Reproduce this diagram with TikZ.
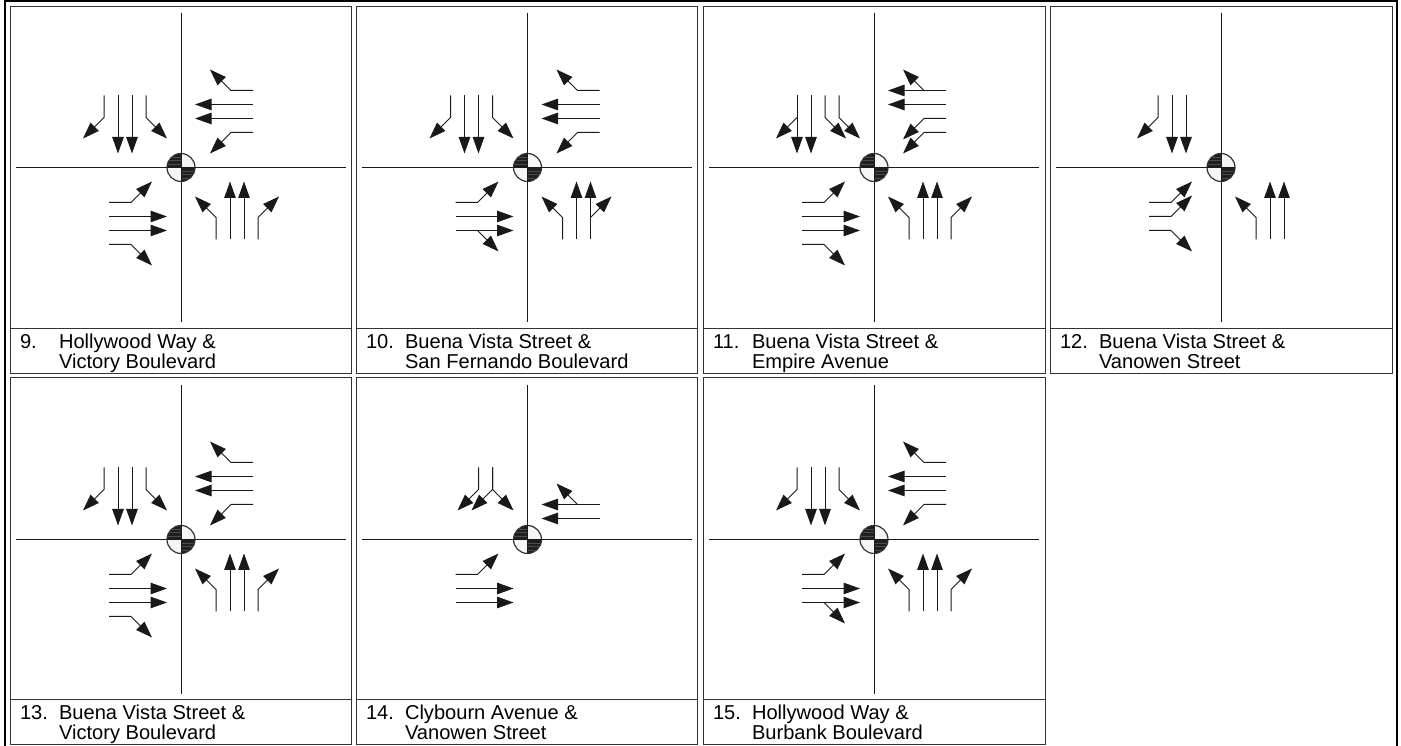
\documentclass[tikz,border=0pt]{standalone}
\usepackage{fontspec}
\setmainfont{Liberation Sans}
\usetikzlibrary{arrows.meta}
\tikzset{
  x=1pt,y=1pt,
  arr/.style={line width=1pt,draw=black!90,-{Triangle[length=16.5pt,width=11.5pt]},line join=miter},
  road/.style={line width=1pt,draw=black!90},
  panelbox/.style={line width=1pt,draw=black!80},
  label/.style={anchor=base west,inner sep=0pt,outer sep=0pt,font=\fontsize{20.1}{20}\selectfont,text=black},
}
% lane types, drawn for a southbound approach; the other approaches are rotations
\newcommand{\lnT}[1]{\draw[arr] (#1,72) -- (#1,14);}
\newcommand{\lnL}[1]{\draw[arr] (#1,72) -- (#1,50) -- ({#1-21},29);}
\newcommand{\lnR}[1]{\draw[arr] (#1,72) -- (#1,50) -- ({#1+21},29);}
\newcommand{\brL}[1]{\draw[arr] (#1,50) -- ({#1-21},29);}
\newcommand{\stdappr}{\lnL{-77}\lnT{-63}\lnT{-49}\lnR{-35}}
\newcommand{\sharedappr}{\lnR{-35}\lnT{-49}\lnT{-63}\brL{-63}}
\newcommand{\elevenappr}{\lnT{-77}\brL{-77}\lnT{-63}\lnR{-49}\lnR{-35}}
% \panelframe{left}{right}{top}{bottom}{divider}
\newcommand{\panelframe}[5]{\draw[panelbox] (#1,746-#3) rectangle (#2,746-#4);
  \draw[panelbox] (#1,746-#5) -- (#2,746-#5);}
% \signal{cx}{cy}
\newcommand{\signal}[2]{\begin{scope}[shift={(#1,746-#2)}]
  \fill[black!4] (0,0) circle (14);
  \fill[black!88] (0,0) -- (-14,0) arc (180:90:14) -- cycle;
  \fill[black!88] (0,0) -- (14,0) arc (0:-90:14) -- cycle;
  \foreach \yy in {3.5,7,10.5} {
    \draw[black!70,line width=0.3pt] ({-sqrt(196-\yy*\yy)},\yy) -- (0,\yy);
    \draw[black!70,line width=0.3pt] (0,-\yy) -- ({sqrt(196-\yy*\yy)},-\yy);}
  \draw[line width=1.2pt,draw=black!80] (0,0) circle (14);
  \draw[road] (-14,0) -- (14,0);
  \draw[road] (0,-14) -- (0,14);
\end{scope}}
\newcommand{\appr}[4]{\begin{scope}[shift={(#1,746-#2)},rotate=#3]#4\end{scope}}
\begin{document}
\begin{tikzpicture}
\useasboundingbox (0,0) rectangle (1401,746);
\fill[white] (0,0) rectangle (1401,746);
\draw[line width=2pt,draw=black] (4.8,-3) -- (4.8,744.7) -- (1397,744.7) -- (1397,-3);

\panelframe{10}{351}{6.5}{373.5}{328.5}
\panelframe{356.5}{697.5}{6.5}{373.5}{328.5}
\panelframe{703}{1045}{6.5}{373.5}{328.5}
\panelframe{1050}{1392}{6.5}{373.5}{328.5}
\panelframe{10}{351}{378}{745}{700}
\panelframe{356.5}{697.5}{378}{745}{700}
\panelframe{703}{1045}{378}{745}{700}

% roads
\draw[road] (16,746-167.5) -- (346,746-167.5);   \draw[road] (181,746-13) -- (181,746-322);
\draw[road] (362,746-167.5) -- (692,746-167.5);  \draw[road] (527.5,746-13) -- (527.5,746-322);
\draw[road] (709,746-167.5) -- (1039,746-167.5); \draw[road] (874,746-13) -- (874,746-322);
\draw[road] (1056,746-167.5) -- (1221,746-167.5);\draw[road] (1221,746-13) -- (1221,746-322);
\draw[road] (16,746-539.5) -- (346,746-539.5);   \draw[road] (181,746-385) -- (181,746-694);
\draw[road] (362,746-539.5) -- (692,746-539.5);  \draw[road] (527.5,746-385) -- (527.5,746-539.5);
\draw[road] (709,746-539.5) -- (1039,746-539.5); \draw[road] (874,746-385) -- (874,746-694);

% 9
\appr{181}{167.5}{0}{\stdappr}\appr{181}{167.5}{-90}{\stdappr}\appr{181}{167.5}{90}{\stdappr}\appr{181}{167.5}{180}{\stdappr}
% 10
\appr{527.5}{167.5}{0}{\stdappr}\appr{527.5}{167.5}{-90}{\stdappr}\appr{527.5}{167.5}{90}{\sharedappr}\appr{527.5}{167.5}{180}{\sharedappr}
% 11
\appr{874}{167.5}{0}{\elevenappr}\appr{874}{167.5}{-90}{\elevenappr}\appr{874}{167.5}{90}{\stdappr}\appr{874}{167.5}{180}{\stdappr}
% 12
\appr{1221}{167.5}{0}{\lnL{-63}\lnT{-49}\lnT{-35}}
\appr{1221}{167.5}{90}{\lnL{-63}\lnR{-49}\lnR{-35}}
\appr{1221}{167.5}{180}{\lnR{-35}\lnT{-49}\lnT{-63}}
% 13
\appr{181}{539.5}{0}{\stdappr}\appr{181}{539.5}{-90}{\stdappr}\appr{181}{539.5}{90}{\stdappr}\appr{181}{539.5}{180}{\stdappr}
% 14
\appr{527.5}{539.5}{0}{\lnL{-49}\lnL{-35}\lnR{-35}}
\appr{527.5}{539.5}{-90}{\lnT{-35}\brL{-35}\lnT{-21}}
\appr{527.5}{539.5}{90}{\lnR{-35}\lnT{-49}\lnT{-63}}
% 15
\appr{874}{539.5}{0}{\stdappr}\appr{874}{539.5}{-90}{\stdappr}\appr{874}{539.5}{90}{\sharedappr}\appr{874}{539.5}{180}{\stdappr}

\signal{181}{167.5}\signal{527.5}{167.5}\signal{874}{167.5}\signal{1221}{167.5}
\signal{181}{539.5}\signal{527.5}{539.5}\signal{874}{539.5}

% captions
\node[label] (n9)  at (20,746-348.5) {9.};
\node[label] (t9a) at (59,746-348.5) {Hollywood Way \&};
\node[label] (t9b) at (59,746-368.5) {Victory Boulevard};
\node[label] (n10) at (366,746-348.5) {10.};
\node[label] (t10a) at (405,746-348.5) {Buena Vista Street \&};
\node[label] (t10b) at (405,746-368.5) {San Fernando Boulevard};
\node[label] (n11) at (713,746-348.5) {11.};
\node[label] (t11a) at (752,746-348.5) {Buena Vista Street \&};
\node[label] (t11b) at (752,746-368.5) {Empire Avenue};
\node[label] (n12) at (1060,746-348.5) {12.};
\node[label] (t12a) at (1099,746-348.5) {Buena Vista Street \&};
\node[label] (t12b) at (1099,746-368.5) {Vanowen Street};
\node[label] (n13) at (20,746-720) {13.};
\node[label] (t13a) at (59,746-720) {Buena Vista Street \&};
\node[label] (t13b) at (59,746-740) {Victory Boulevard};
\node[label] (n14) at (366,746-720) {14.};
\node[label] (t14a) at (405,746-720) {Clybourn Avenue \&};
\node[label] (t14b) at (405,746-740) {Vanowen Street};
\node[label] (n15) at (713,746-720) {15.};
\node[label] (t15a) at (752,746-720) {Hollywood Way \&};
\node[label] (t15b) at (752,746-740) {Burbank Boulevard};
\end{tikzpicture}
\end{document}
